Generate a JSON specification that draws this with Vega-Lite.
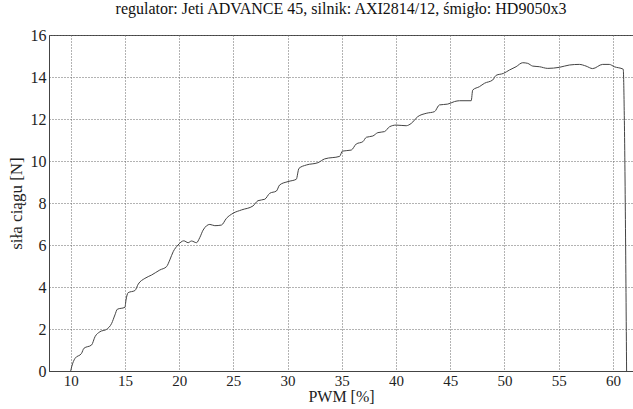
{
  "$schema": "https://vega.github.io/schema/vega-lite/v6.json",
  "autosize": "none",
  "width": 584,
  "height": 336,
  "padding": {"left": 49, "top": 35, "right": 0, "bottom": 38},
  "background": "white",
  "title": {
    "text": "regulator: Jeti ADVANCE 45, silnik: AXI2814/12, śmigło: HD9050x3",
    "font": "Liberation Serif",
    "fontSize": 16,
    "fontWeight": "normal",
    "color": "#111",
    "offset": 10,
    "anchor": "middle"
  },
  "config": {
    "view": {"stroke": "#444", "strokeWidth": 1},
    "axis": {
      "labelFont": "Liberation Serif",
      "labelFontSize": 16,
      "labelColor": "#222",
      "titleFont": "Liberation Serif",
      "titleFontSize": 17,
      "titleFontWeight": "normal",
      "titleColor": "#222",
      "domainColor": "#444",
      "ticks": false,
      "grid": true,
      "gridColor": "#666",
      "gridDash": [1, 2],
      "gridOpacity": 1,
      "gridWidth": 1
    }
  },
  "data": {
    "values": [
      {"pwm": 10.0, "thrust": 0.0},
      {"pwm": 10.09, "thrust": 0.2},
      {"pwm": 10.4, "thrust": 0.6},
      {"pwm": 11.0, "thrust": 0.84},
      {"pwm": 11.22, "thrust": 1.08},
      {"pwm": 11.93, "thrust": 1.24},
      {"pwm": 12.24, "thrust": 1.63},
      {"pwm": 12.7, "thrust": 1.87},
      {"pwm": 13.3, "thrust": 1.98},
      {"pwm": 13.78, "thrust": 2.27},
      {"pwm": 14.08, "thrust": 2.67},
      {"pwm": 14.3, "thrust": 2.94},
      {"pwm": 15.0, "thrust": 3.03},
      {"pwm": 15.1, "thrust": 3.38},
      {"pwm": 15.3, "thrust": 3.73},
      {"pwm": 15.92, "thrust": 3.83},
      {"pwm": 16.23, "thrust": 4.14},
      {"pwm": 16.84, "thrust": 4.41},
      {"pwm": 17.46, "thrust": 4.57},
      {"pwm": 18.22, "thrust": 4.81},
      {"pwm": 18.84, "thrust": 4.97},
      {"pwm": 19.14, "thrust": 5.29},
      {"pwm": 19.45, "thrust": 5.68},
      {"pwm": 19.9, "thrust": 6.0},
      {"pwm": 20.43, "thrust": 6.2},
      {"pwm": 20.83, "thrust": 6.11},
      {"pwm": 21.14, "thrust": 6.19},
      {"pwm": 21.6, "thrust": 6.11},
      {"pwm": 21.9, "thrust": 6.35},
      {"pwm": 22.21, "thrust": 6.71},
      {"pwm": 22.83, "thrust": 6.98},
      {"pwm": 23.29, "thrust": 6.92},
      {"pwm": 23.9, "thrust": 6.95},
      {"pwm": 24.36, "thrust": 7.27},
      {"pwm": 24.97, "thrust": 7.51},
      {"pwm": 25.75, "thrust": 7.67},
      {"pwm": 26.81, "thrust": 7.86},
      {"pwm": 27.27, "thrust": 8.11},
      {"pwm": 27.9, "thrust": 8.18},
      {"pwm": 28.35, "thrust": 8.46},
      {"pwm": 28.97, "thrust": 8.57},
      {"pwm": 29.27, "thrust": 8.86},
      {"pwm": 30.04, "thrust": 9.02},
      {"pwm": 30.8, "thrust": 9.13},
      {"pwm": 31.05, "thrust": 9.65},
      {"pwm": 31.73, "thrust": 9.81},
      {"pwm": 32.8, "thrust": 9.92},
      {"pwm": 33.42, "thrust": 10.1},
      {"pwm": 34.8, "thrust": 10.22},
      {"pwm": 35.05, "thrust": 10.47},
      {"pwm": 35.87, "thrust": 10.52},
      {"pwm": 36.33, "thrust": 10.81},
      {"pwm": 36.94, "thrust": 10.92},
      {"pwm": 37.26, "thrust": 11.13},
      {"pwm": 37.86, "thrust": 11.19},
      {"pwm": 38.32, "thrust": 11.35},
      {"pwm": 38.94, "thrust": 11.4},
      {"pwm": 39.4, "thrust": 11.63},
      {"pwm": 40.0, "thrust": 11.71},
      {"pwm": 40.94, "thrust": 11.68},
      {"pwm": 41.4, "thrust": 11.79},
      {"pwm": 42.0, "thrust": 12.11},
      {"pwm": 42.78, "thrust": 12.27},
      {"pwm": 43.55, "thrust": 12.35},
      {"pwm": 44.0, "thrust": 12.67},
      {"pwm": 44.77, "thrust": 12.71},
      {"pwm": 45.39, "thrust": 12.83},
      {"pwm": 45.85, "thrust": 12.87},
      {"pwm": 46.93, "thrust": 12.87},
      {"pwm": 47.07, "thrust": 13.38},
      {"pwm": 47.69, "thrust": 13.54},
      {"pwm": 48.15, "thrust": 13.7},
      {"pwm": 48.92, "thrust": 13.86},
      {"pwm": 49.23, "thrust": 14.08},
      {"pwm": 49.9, "thrust": 14.17},
      {"pwm": 50.45, "thrust": 14.33},
      {"pwm": 51.07, "thrust": 14.49},
      {"pwm": 51.68, "thrust": 14.68},
      {"pwm": 52.14, "thrust": 14.65},
      {"pwm": 52.6, "thrust": 14.52},
      {"pwm": 53.22, "thrust": 14.49},
      {"pwm": 53.99, "thrust": 14.41},
      {"pwm": 55.06, "thrust": 14.46},
      {"pwm": 55.98, "thrust": 14.57},
      {"pwm": 56.9, "thrust": 14.6},
      {"pwm": 57.52, "thrust": 14.52},
      {"pwm": 58.13, "thrust": 14.4},
      {"pwm": 59.05, "thrust": 14.6},
      {"pwm": 59.66, "thrust": 14.6},
      {"pwm": 60.12, "thrust": 14.49},
      {"pwm": 60.95, "thrust": 14.37},
      {"pwm": 61.04, "thrust": 12.4},
      {"pwm": 61.26, "thrust": 0.0}
    ]
  },
  "mark": {"type": "line", "color": "#444", "strokeWidth": 1, "interpolate": "monotone", "clip": true},
  "encoding": {
    "x": {
      "field": "pwm",
      "type": "quantitative",
      "scale": {"domain": [8, 61.85], "nice": false, "zero": false},
      "axis": {"title": "PWM [%]", "values": [10, 15, 20, 25, 30, 35, 40, 45, 50, 55, 60], "labelPadding": 2, "labelFontSize": 15, "titleFontSize": 16, "titlePadding": 0}
    },
    "y": {
      "field": "thrust",
      "type": "quantitative",
      "scale": {"domain": [0, 16], "nice": false},
      "axis": {"title": "siła ciągu [N]", "values": [0, 2, 4, 6, 8, 10, 12, 14, 16], "labelPadding": 3, "titlePadding": 5}
    }
  }
}
